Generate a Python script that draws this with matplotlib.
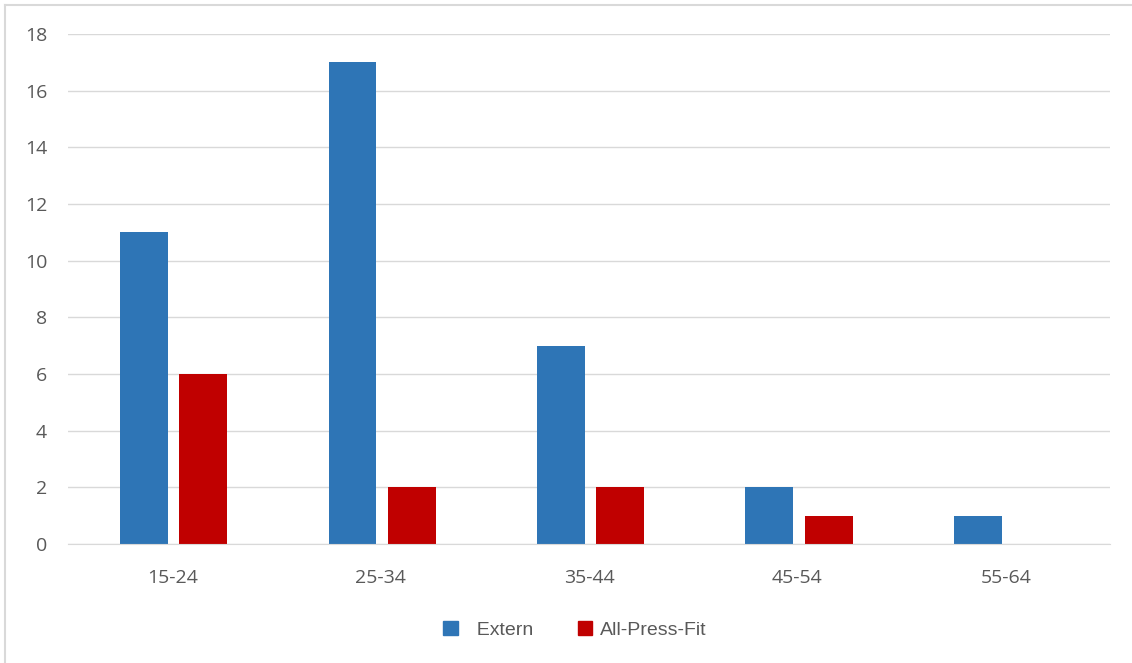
import matplotlib.pyplot as plt
import numpy as np
from matplotlib.lines import Line2D
from matplotlib.patches import Patch

# Data
age_groups = ['15-24', '25-34', '35-44', '45-54', '55-64']
extern = [11, 17, 7, 2, 1]
press_fit = [6, 2, 2, 1, 0]

blue = '#2E75B6'
red = '#C00000'
text_col = '#595959'

plt.rcParams['font.family'] = ['Open Sans', 'DejaVu Sans']

fig = plt.figure(figsize=(11.32, 6.63), dpi=100)
ax = fig.add_axes([68 / 1132, 1 - 544 / 663, (1110 - 68) / 1132, (544 - 34) / 663])

x = np.arange(len(age_groups))
w = 0.23
ax.bar(x - 0.135, extern, w, color=blue, label='Extern')
ax.bar(x + 0.15, press_fit, w, color=red, label='All-Press-Fit')

ax.set_xlim(-0.5, len(age_groups) - 0.5)
ax.set_ylim(0, 18)
ax.set_yticks(range(0, 19, 2))
ax.set_xticks(x)
ax.set_xticklabels(age_groups)
ax.yaxis.grid(True, color='#D9D9D9', linewidth=1)
ax.set_axisbelow(True)
for s in ['top', 'right', 'left']:
    ax.spines[s].set_visible(False)
ax.spines['bottom'].set_color('#D9D9D9')
ax.tick_params(length=0, labelsize=14, colors=text_col)
ax.tick_params(axis='y', pad=15)
ax.tick_params(axis='x', pad=18)

# legend
handles = [Patch(color=blue), Patch(color=red)]
fig.legend(handles, ['  Extern', 'All-Press-Fit'], loc='center', bbox_to_anchor=(0.508, 1 - 630 / 663),
           ncol=2, frameon=False, handlelength=0.75, handleheight=0.75, handletextpad=0.4,
           columnspacing=2.3, prop={'family': 'Liberation Sans', 'size': 14},
           labelcolor=text_col)

# outer border (left and top visible in crop)
fig.add_artist(Line2D([5 / 1132, 5 / 1132], [0, 1 - 5 / 663], color='#D9D9D9', lw=1.5,
                      transform=fig.transFigure))
fig.add_artist(Line2D([5 / 1132, 1], [1 - 5 / 663, 1 - 5 / 663], color='#D9D9D9', lw=1.5,
                      transform=fig.transFigure))

fig.savefig('out.png', dpi=100)
